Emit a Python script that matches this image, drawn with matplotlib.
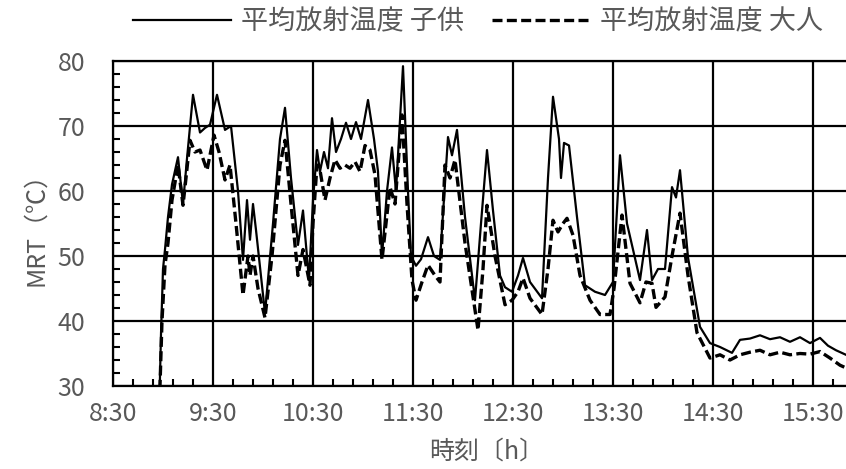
import matplotlib
matplotlib.use("Agg")
import matplotlib.pyplot as plt
from matplotlib.ticker import MultipleLocator, FuncFormatter

plt.rcParams["font.family"] = ["Noto Sans CJK JP", "DejaVu Sans"]

# time in decimal hours, MRT in degC
child_t = [8.96, 8.98, 9.00, 9.02, 9.05, 9.09, 9.15, 9.20, 9.24, 9.30, 9.37, 9.42, 9.47,
           9.54, 9.62, 9.68, 9.75, 9.80, 9.84, 9.87, 9.90, 9.93, 10.02, 10.10, 10.17,
           10.22, 10.28, 10.35, 10.40, 10.46, 10.50, 10.54, 10.57, 10.61, 10.65, 10.69,
           10.73, 10.78, 10.83, 10.88, 10.93, 10.98, 11.05, 11.11, 11.15, 11.19, 11.24,
           11.29, 11.33, 11.40, 11.45, 11.48, 11.53, 11.58, 11.65, 11.71, 11.77, 11.85,
           11.89, 11.94, 12.02, 12.12, 12.18, 12.24, 12.30, 12.37, 12.42, 12.49, 12.55,
           12.60, 12.67, 12.79, 12.85, 12.90, 12.96, 12.98, 13.01, 13.06, 13.14, 13.22,
           13.32, 13.42, 13.50, 13.57, 13.64, 13.70, 13.77, 13.84, 13.89, 13.95, 14.02,
           14.09, 14.13, 14.17, 14.25, 14.37, 14.47, 14.57, 14.69, 14.77, 14.87, 14.97,
           15.07, 15.17, 15.27, 15.37, 15.47, 15.57, 15.65, 15.73, 15.83, 15.93]
child_v = [25, 38, 48, 51, 56, 61, 65.2, 58, 65, 74.8, 69, 69.7, 70.2,
           74.8, 69.4, 70, 60, 49.4, 58.6, 52.5, 58, 54, 41.2, 55, 68,
           72.8, 62, 51.7, 57, 46.3, 58.6, 66.3, 63, 66, 63.5, 71.2,
           66, 68, 70.5, 68, 70.6, 68, 74, 68, 63, 50, 60,
           66.7, 60, 79.2, 60, 50, 48.5, 49.5, 52.9, 50, 49.4, 68.3,
           65.5, 69.4, 56, 43.2, 55, 66.3, 57, 47, 45.2, 44.5, 47,
           49.7, 46, 43.5, 62, 74.5, 68, 62, 67.4, 67, 56, 45.5,
           44.5, 44, 46, 65.5, 55, 51, 46.3, 54, 46.3, 48, 48,
           60.6, 59, 63.2, 49.8, 39.1, 36.6, 36, 35.1, 37.1, 37.3, 37.8,
           37.2, 37.5, 36.8, 37.5, 36.6, 37.4, 36.2, 35.5, 34.8, 34]

adult_t = [8.96, 8.99, 9.02, 9.05, 9.09, 9.15, 9.20, 9.23, 9.27, 9.32, 9.37, 9.44, 9.51,
           9.56, 9.62, 9.67, 9.73, 9.80, 9.85, 9.87, 9.90, 9.95, 10.02, 10.09, 10.17,
           10.22, 10.28, 10.35, 10.40, 10.47, 10.50, 10.54, 10.57, 10.62, 10.67, 10.72,
           10.77, 10.82, 10.87, 10.92, 10.97, 11.02, 11.07, 11.12, 11.16, 11.19, 11.23,
           11.27, 11.32, 11.39, 11.44, 11.49, 11.53, 11.59, 11.65, 11.72, 11.77, 11.82,
           11.87, 11.92, 12.02, 12.15, 12.20, 12.24, 12.32, 12.42, 12.49, 12.55, 12.60,
           12.67, 12.79, 12.85, 12.90, 12.95, 13.00, 13.04, 13.10, 13.17, 13.27, 13.37,
           13.47, 13.51, 13.59, 13.67, 13.77, 13.83, 13.89, 13.93, 14.02, 14.09, 14.17,
           14.25, 14.34, 14.47, 14.57, 14.67, 14.77, 14.87, 14.97, 15.07, 15.17, 15.27,
           15.37, 15.47, 15.57, 15.67, 15.77, 15.87]
adult_v = [25, 40, 48.6, 52, 58.6, 64, 57.8, 62, 67.8, 66, 66.3, 63.2, 68.6,
           66, 61.7, 64, 55, 44, 50, 47, 50, 45, 40.5, 50, 64,
           67.8, 58, 47, 51, 45.5, 55, 64, 63.2, 58.6, 62, 64.8,
           63.5, 64, 63.5, 64.5, 63, 67, 66.3, 62.5, 55, 49.4, 55,
           60.6, 58, 71.7, 58, 46.3, 43.2, 46, 48.6, 47, 46, 64,
           62, 64.8, 52, 38.6, 48, 57.8, 50, 42.5, 43.2, 44.5, 46.6,
           43.5, 41, 48, 55.5, 53.7, 55, 55.8, 53.2, 47, 43.2, 41,
           41, 45, 56.3, 45.8, 42.8, 46, 45.8, 42.1, 43.7, 50, 56.6,
           47, 38.2, 34.3, 34.8, 34, 34.8, 35.2, 35.5, 34.8, 35.2, 34.8,
           35, 34.9, 35.3, 34.3, 33.2, 32.5]

labels = ["平均放射温度 子供", "平均放射温度 大人"]
GRAY = "#595959"

fig = plt.figure(figsize=(8.46, 4.69), dpi=100)
# axes runs past the right edge of the figure, as in the reference
ax = fig.add_axes([113 / 846, 83 / 469, 800 / 846, 325 / 469])

ax.plot(child_t, child_v, color="black", lw=1.6, label=labels[0], zorder=3)
ax.plot(adult_t, adult_v, color="black", lw=2.4, ls=(0, (3.0, 1.3)),
        label=labels[1], zorder=3)

ax.set_xlim(8.5, 16.5)
ax.set_ylim(30, 80)
ax.xaxis.set_major_locator(MultipleLocator(1, offset=0.5))
ax.xaxis.set_minor_locator(MultipleLocator(0.2, offset=0.1))
ax.yaxis.set_major_locator(MultipleLocator(10))
ax.yaxis.set_minor_locator(MultipleLocator(2))
ax.xaxis.set_major_formatter(FuncFormatter(
    lambda v, p: f"{int(v)}:{int(round((v % 1) * 60)):02d}"))

ax.grid(True, which="major", color="black", lw=1.6)
ax.tick_params(which="major", length=0, labelsize=18, labelcolor=GRAY)
ax.tick_params(axis="y", which="major", pad=20)
ax.tick_params(axis="x", which="major", pad=11)
ax.tick_params(which="minor", direction="in", length=5, width=1.5, color="black")
for s in ["left", "top", "bottom"]:
    ax.spines[s].set_linewidth(1.6)
ax.spines["right"].set_visible(False)

ax.set_ylabel("MRT（℃）", fontsize=18, color=GRAY, labelpad=6)
fig.text(487 / 846, 1 - 452 / 469, "時刻〔h〕", fontsize=18, color=GRAY,
         ha="center", va="center")

leg = fig.legend(loc="center", bbox_to_anchor=(478 / 846, 1 - 22 / 469), ncol=2,
                 frameon=False, fontsize=19.5, handlelength=3.6, handletextpad=0.4,
                 columnspacing=1.0, borderaxespad=0)
for t in leg.get_texts():
    t.set_color(GRAY)

fig.savefig("out.png", dpi=100)
